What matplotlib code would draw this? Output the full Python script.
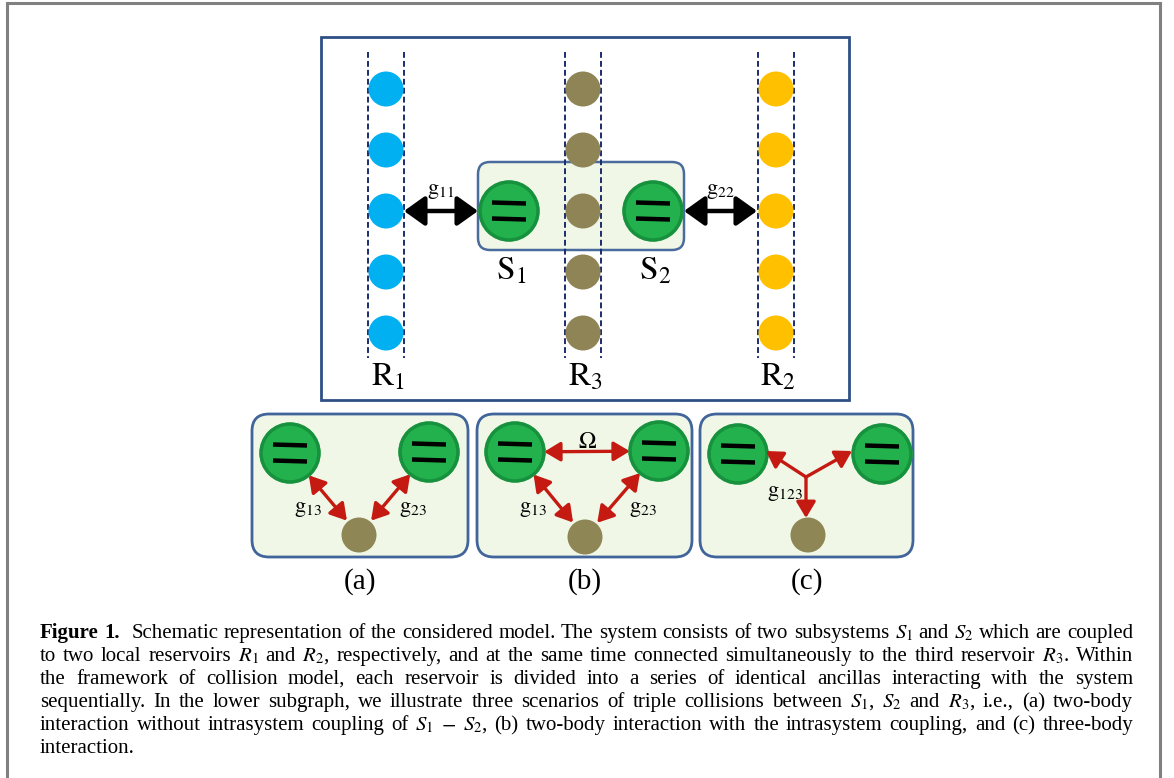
import matplotlib
matplotlib.use('Agg')
import matplotlib.pyplot as plt
from matplotlib.patches import Circle, FancyBboxPatch, FancyArrowPatch

plt.rcParams['font.family'] = ['Liberation Serif', 'DejaVu Serif']
plt.rcParams['mathtext.fontset'] = 'stix'

# ---- top panel: three reservoirs made of ancillas ----
res_labels = [r'$\mathrm{R}_1$', r'$\mathrm{R}_3$', r'$\mathrm{R}_2$']
res_x = [386, 583, 776]
res_colors = ['#00B0F0', '#8E8455', '#FFC000']
ancilla_y = [89, 150, 211, 272, 333]

# ---- the two subsystems ----
sys_labels = [r'$\mathrm{S}_1$', r'$\mathrm{S}_2$']
sys_x = [509, 653]
sys_y = 211
top_couplings = [r'$\mathrm{g}_{11}$', r'$\mathrm{g}_{22}$']
top_arrows = [(404, 478), (684, 757)]

# ---- lower panels: triple collision scenarios ----
panel_tags = ['(a)', '(b)', '(c)']
panel_left = [252, 477, 700]
panel_right = [468, 692, 913]
qubit_left = [(290, 453), (515, 452), (738, 454)]
qubit_right = [(429, 452), (659, 451), (882, 454)]
ancilla_low = [(359, 535), (585, 537), (808, 535)]

caption = [
    r'Figure 1. Schematic representation of the considered model. The system consists of two subsystems $S_1$ and $S_2$ which are coupled',
    r'to two local reservoirs $R_1$ and $R_2$, respectively, and at the same time connected simultaneously to the third reservoir $R_3$. Within',
    r'the framework of collision model, each reservoir is divided into a series of identical ancillas interacting with the system',
    r'sequentially. In the lower subgraph, we illustrate three scenarios of triple collisions between $S_1$, $S_2$ and $R_3$, i.e., (a) two-body',
    r'interaction without intrasystem coupling of $S_1$ $-$ $S_2$, (b) two-body interaction with the intrasystem coupling, and (c) three-body',
    r'interaction.',
]

fig = plt.figure(figsize=(11.74, 7.78), dpi=100)
ax = fig.add_axes([0, 0, 1, 1])
ax.set_xlim(0, 1174)
ax.set_ylim(778, 0)
ax.axis('off')

edge_blue = '#41659B'
panel_fill = '#F0F7E6'
red = '#C41A12'

# outer grey frame
ax.plot([7, 7, 1160, 1160], [790, 3, 3, 790], color='#808080', lw=2.2, solid_joinstyle='miter')

# big top box
ax.add_patch(plt.Rectangle((321, 37), 528, 363, fc='white', ec='#2E5085', lw=2, zorder=0))


def qubit(cx, cy, r=29):
    ax.add_patch(Circle((cx, cy), r + 1.5, fc='#5CCB78', ec='none', zorder=3))
    ax.add_patch(Circle((cx, cy), r, fc='#22B14C', ec='#17913D', lw=2.5, zorder=3))
    for dy in (-8, 8):
        ax.plot([cx - 17, cx + 17], [cy + dy - 0.5, cy + dy + 0.5], color='black',
                lw=3.2, solid_capstyle='butt', zorder=4)


# green box holding S1, S2
ax.add_patch(FancyBboxPatch((478, 162), 206, 88, boxstyle='round,pad=0,rounding_size=12',
                            fc=panel_fill, ec='#4A6C9C', lw=1.8, zorder=1))

# reservoirs
for x, c, lab in zip(res_x, res_colors, res_labels):
    for xd in (x - 18, x + 18):
        ax.plot([xd, xd], [52, 358], color='#1C2C6C', lw=1.4, ls=(0, (3, 1.6)), zorder=2)
    for y in ancilla_y:
        ax.add_patch(Circle((x, y), 17.5, fc=c, ec='none', zorder=2.5))
    ax.text(x + 2, 385, lab, fontsize=24, ha='center', va='baseline', zorder=5)

for x, lab in zip(sys_x, sys_labels):
    qubit(x, sys_y)
    ax.text(x + 2, 279, lab, fontsize=24, ha='center', va='baseline', zorder=5)

for (x0, x1), lab in zip(top_arrows, top_couplings):
    ax.add_patch(FancyArrowPatch((x0, sys_y), (x1, sys_y), arrowstyle='<|-|>,head_length=0.7,head_width=0.5',
                                 mutation_scale=18, lw=3.2, color='black', shrinkA=0, shrinkB=0, zorder=5))
    ax.text((x0 + x1) / 2, 194, lab, fontsize=16, ha='center', va='baseline')


def red_arrow(p0, p1, style='<|-|>', sa=0, sb=0):
    ax.add_patch(FancyArrowPatch(p0, p1, arrowstyle=style + ',head_length=0.75,head_width=0.45',
                                 mutation_scale=13, lw=2.4, color=red, shrinkA=sa, shrinkB=sb, zorder=5))


for i in range(3):
    x0, x1 = panel_left[i], panel_right[i]
    ax.add_patch(FancyBboxPatch((x0, 414), x1 - x0, 143, boxstyle='round,pad=0,rounding_size=17',
                                fc=panel_fill, ec=edge_blue, lw=2, zorder=1))
    ql, qr, an = qubit_left[i], qubit_right[i], ancilla_low[i]
    qubit(*ql)
    qubit(*qr)
    ax.add_patch(Circle(an, 17.5, fc='#8F8656', ec='none', zorder=3))
    ax.text((x0 + x1) / 2, 589, panel_tags[i], fontsize=21, ha='center', va='baseline')
    if i < 2:
        red_arrow(ql, an, sa=21, sb=13.5)
        red_arrow(qr, an, sa=21, sb=13.5)
        ax.text(ql[0] + 18, 512, r'$\mathrm{g}_{13}$', fontsize=16, ha='center', va='baseline')
        ax.text(qr[0] - 16, 512, r'$\mathrm{g}_{23}$', fontsize=16, ha='center', va='baseline')
    if i == 1:
        red_arrow(ql, qr, sa=21, sb=21)
        ax.text((ql[0] + qr[0]) / 2, 448, r'$\Omega$', fontsize=17, ha='center', va='baseline')
    if i == 2:
        hub = (an[0] - 2, 477)
        red_arrow(hub, (766, 451), style='-|>')
        red_arrow(hub, (852, 451), style='-|>')
        red_arrow(hub, (hub[0], 518), style='-|>')
        ax.text(785, 496, r'$\mathrm{g}_{123}$', fontsize=16, ha='center', va='baseline')

# caption, justified word by word
renderer = fig.canvas.get_renderer()
left, right = 40, 1133
for k, line in enumerate(caption):
    y = 638 + 23 * k
    words = line.split(' ')
    texts = []
    for j, w in enumerate(words):
        bold = (k == 0 and j < 2)
        texts.append(ax.text(0, y, w, fontsize=15, ha='left', va='baseline',
                             fontweight='bold' if bold else 'normal'))
    widths = [t.get_window_extent(renderer).width for t in texts]
    extra = 6 if k == 0 else 0
    if k == len(caption) - 1:
        gap = 4
    else:
        gap = max(2.5, (right - left - sum(widths) - extra) / (len(words) - 1))
    x = left
    for j, (t, w) in enumerate(zip(texts, widths)):
        t.set_x(x)
        x += w + gap + (extra if (k == 0 and j == 1) else 0)

fig.savefig('out.png', dpi=100)
